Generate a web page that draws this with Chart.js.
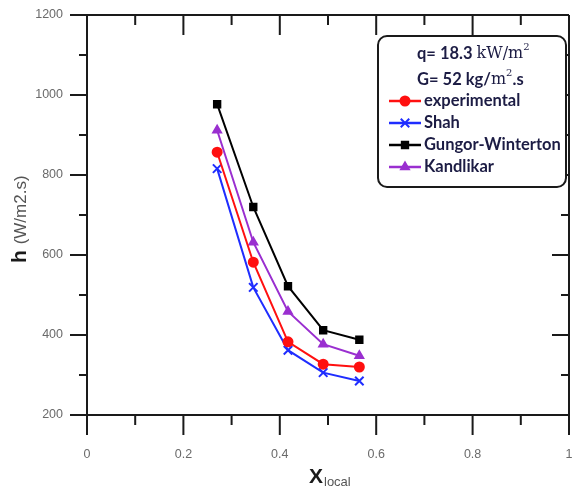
<!DOCTYPE html>
<html>
<head>
<meta charset="utf-8">
<script src="https://cdn.jsdelivr.net/npm/chart.js@4/dist/chart.umd.min.js"></script>
<style>
html,body{margin:0;padding:0;background:#fff;}
#wrap{width:577px;height:492px;position:relative;}
</style>
</head>
<body>
<div id="wrap"><canvas id="c" width="577" height="492"></canvas></div>
<script>
// ---- data ----
const xLocal = [0.27, 0.345, 0.417, 0.49, 0.565];
const experimental = [857, 582, 383, 327, 320];
const shah = [816, 519, 362, 306, 285];
const gungorWinterton = [977, 720, 522, 412, 388];
const kandlikar = [912, 632, 459, 377, 348];
const xTickLabels = ['0', '0.2', '0.4', '0.6', '0.8', '1'];
const xTickValues = [0, 0.2, 0.4, 0.6, 0.8, 1];
const yTickLabels = ['200', '400', '600', '800', '1000', '1200'];
const yTickValues = [200, 400, 600, 800, 1000, 1200];
const xMinorValues = [0.1, 0.3, 0.5, 0.7, 0.9];
const yMinorValues = [300, 500, 700, 900, 1100];
const legendTitle1 = 'q= 18.3 ';
const legendTitle1Unit = 'kW/m';
const legendTitle2 = 'G= 52 kg/';
const legendTitle2Unit = 'm';

function pts(ys){ return xLocal.map((x,i)=>({x:x,y:ys[i]})); }

const datasets = [
  {label:'experimental', data:pts(experimental), borderColor:'#ff1010', backgroundColor:'#ff1010', pointStyle:'circle', pointRadius:4.5},
  {label:'Shah', data:pts(shah), borderColor:'#1f2dff', backgroundColor:'#1f2dff', pointStyle:'crossRot', pointRadius:6, pointBorderWidth:2},
  {label:'Gungor-Winterton', data:pts(gungorWinterton), borderColor:'#000000', backgroundColor:'#000000', pointStyle:'rect', pointRadius:4.5},
  {label:'Kandlikar', data:pts(kandlikar), borderColor:'#9a2fd0', backgroundColor:'#9a2fd0', pointStyle:'triangle', pointRadius:4.5}
].map(d=>Object.assign({showLine:true, borderWidth:2, tension:0}, d));

const framePlugin = {
  id:'frame',
  beforeDatasetsDraw(chart){
    const ctx = chart.ctx, xs = chart.scales.x, ys = chart.scales.y;
    const L = xs.getPixelForValue(0), R = xs.getPixelForValue(1);
    const T = ys.getPixelForValue(1200), B = ys.getPixelForValue(200);
    ctx.save();
    ctx.strokeStyle = '#1a1a1a';
    ctx.lineWidth = 2;
    ctx.lineCap = 'butt';
    ctx.beginPath();
    ctx.moveTo(L, T); ctx.lineTo(L, B + 20);
    ctx.moveTo(L - 17, B); ctx.lineTo(R, B);
    ctx.moveTo(L - 17, T); ctx.lineTo(R, T);
    ctx.moveTo(R, T); ctx.lineTo(R, B + 20);
    xTickValues.forEach(v=>{
      const p = xs.getPixelForValue(v);
      ctx.moveTo(p, B); ctx.lineTo(p, B + 20);
      ctx.moveTo(p, T); ctx.lineTo(p, T + 20);
    });
    xMinorValues.forEach(v=>{
      const p = xs.getPixelForValue(v);
      ctx.moveTo(p, B); ctx.lineTo(p, B + 10);
      ctx.moveTo(p, T); ctx.lineTo(p, T + 10);
    });
    yTickValues.forEach(v=>{
      const p = ys.getPixelForValue(v);
      ctx.moveTo(L - 17, p); ctx.lineTo(L, p);
      ctx.moveTo(R - 17, p); ctx.lineTo(R, p);
    });
    yMinorValues.forEach(v=>{
      const p = ys.getPixelForValue(v);
      ctx.moveTo(L - 8, p); ctx.lineTo(L, p);
      ctx.moveTo(R - 8, p); ctx.lineTo(R, p);
    });
    ctx.stroke();
    // tick labels
    ctx.fillStyle = '#6a6a6a';
    ctx.font = '12.5px "Liberation Sans", Arial, sans-serif';
    ctx.textAlign = 'center'; ctx.textBaseline = 'middle';
    xTickValues.forEach((v,i)=>{
      ctx.fillText(xTickLabels[i], xs.getPixelForValue(v), B + 40);
    });
    ctx.textAlign = 'right';
    yTickValues.forEach((v,i)=>{
      ctx.fillText(yTickLabels[i], L - 24, ys.getPixelForValue(v));
    });
    // x title
    ctx.fillStyle = '#1a1a1a';
    ctx.textAlign = 'left'; ctx.textBaseline = 'alphabetic';
    ctx.font = 'bold 21px "Liberation Sans", Arial, sans-serif';
    ctx.fillText('X', 309, 483);
    ctx.font = '13px "Liberation Sans", Arial, sans-serif';
    ctx.fillStyle = '#555';
    ctx.fillText('local', 324, 486);
    // y title rotated
    ctx.save();
    ctx.translate(26, 0);
    ctx.rotate(-Math.PI/2);
    ctx.textAlign = 'left';
    ctx.font = 'bold 21px "Liberation Sans", Arial, sans-serif';
    ctx.fillStyle = '#1a1a1a';
    ctx.fillText('h', -263, 0);
    const hW = ctx.measureText('h ').width;
    ctx.font = '17px "Liberation Sans", Arial, sans-serif';
    ctx.fillStyle = '#555';
    ctx.fillText('(W/m2.s)', -263 + hW, 0);
    ctx.restore();
    ctx.restore();
  },
  afterDraw(chart){
    const ctx = chart.ctx;
    const bx = 378, by = 36, bw = 188, bh = 151, r = 9;
    ctx.save();
    ctx.fillStyle = '#fff';
    ctx.strokeStyle = '#1a1a1a';
    ctx.lineWidth = 2;
    ctx.beginPath();
    ctx.roundRect(bx, by, bw, bh, r);
    ctx.fill(); ctx.stroke();
    const txtCol = '#1c1c44';
    ctx.fillStyle = txtCol;
    ctx.textBaseline = 'middle';
    const sans = 'bold 16.5px Lato, "Open Sans", sans-serif';
    const serif = '16px "DejaVu Serif", "Liberation Serif", serif';
    const sup = '10px "DejaVu Serif", serif';
    function parts(list, y, x0){
      let x = x0;
      ctx.textAlign = 'left';
      list.forEach(p=>{
        ctx.font = p.f;
        ctx.fillText(p.t, x, y + (p.dy||0));
        x += ctx.measureText(p.t).width;
      });
    }
    parts([{t:legendTitle1,f:sans},{t:legendTitle1Unit,f:serif},{t:'2',f:sup,dy:-7}], 54, 417);
    parts([{t:legendTitle2,f:sans},{t:legendTitle2Unit,f:serif},{t:'2',f:sup,dy:-7},{t:'.s',f:sans}], 80, 417);
    const rows = [101, 123, 145, 167];
    chart.data.datasets.forEach((ds,i)=>{
      const y = rows[i];
      ctx.strokeStyle = ds.borderColor;
      ctx.fillStyle = ds.backgroundColor;
      ctx.lineWidth = 2.5;
      ctx.beginPath(); ctx.moveTo(389, y); ctx.lineTo(421, y); ctx.stroke();
      ctx.lineWidth = 2;
      Chart.helpers.drawPoint(ctx, {pointStyle: ds.pointStyle, radius: ds.pointRadius, borderWidth: 2, rotation:0}, 405, y);
      ctx.fillStyle = txtCol;
      ctx.textBaseline = 'middle'; ctx.textAlign = 'left';
      ctx.font = sans;
      ctx.fillText(ds.label, 424, y);
    });
    ctx.restore();
  }
};

new Chart(document.getElementById('c'), {
  type:'scatter',
  data:{datasets:datasets},
  options:{
    responsive:false,
    animation:false,
    layout:{padding:{left:87, right:4, top:15, bottom:77}},
    scales:{
      x:{type:'linear', min:0, max:1, display:false},
      y:{type:'linear', min:200, max:1200, display:false}
    },
    plugins:{legend:{display:false}, tooltip:{enabled:false}}
  },
  plugins:[framePlugin]
});
</script>
</body>
</html>
